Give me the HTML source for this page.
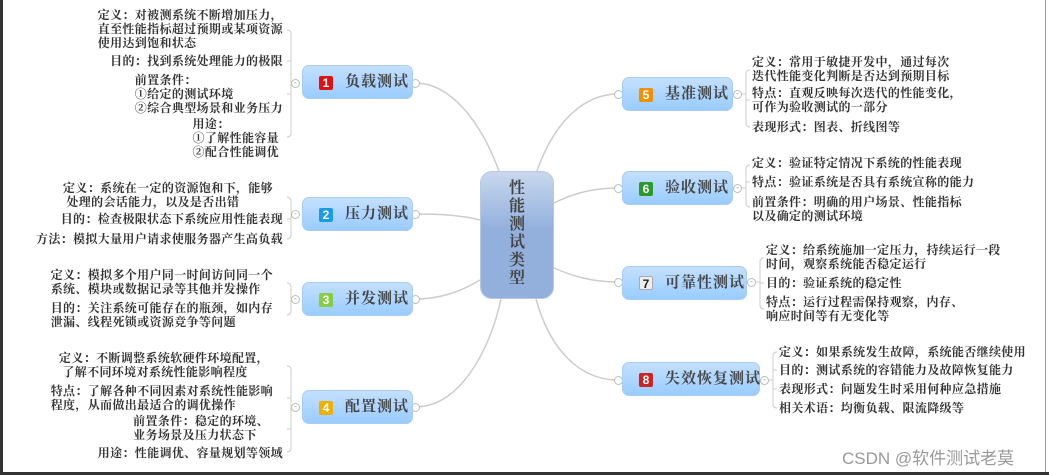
<!DOCTYPE html>
<html><head><meta charset="utf-8"><style>
body{margin:0;width:1049px;height:475px;background:#fff;position:relative;overflow:hidden;font-family:"Liberation Serif","Noto Serif CJK SC",serif;}
.t{position:absolute;font-size:12px;line-height:14px;color:#333;white-space:nowrap;font-weight:bold;letter-spacing:0.35px;}
.l{right:766px;}
.n{position:absolute;height:34px;border-radius:7px;background:linear-gradient(#c4e0ff,#99ccff);border:1px solid #a9cdf0;box-sizing:border-box;font-size:15px;color:#444;font-weight:bold;line-height:32px;padding-left:16px;white-space:nowrap;letter-spacing:1px;}
.ic{display:inline-block;width:14px;height:14px;line-height:14px;text-align:center;font-family:"Liberation Sans",sans-serif;font-size:12px;color:#fff;border-radius:2px;margin-right:12px;vertical-align:-1px;letter-spacing:0;}
.c{position:absolute;width:9px;height:9px;border:1px solid #bbb;border-radius:50%;background:#fff;box-sizing:border-box;}
.m{font-size:8px;line-height:6px;text-align:center;color:#888;}
</style></head><body>
<div style="position:absolute;left:0;top:0;width:3px;height:475px;background:#333"></div>
<div style="position:absolute;left:0;top:472px;width:1049px;height:3px;background:#333"></div>
<div style="position:absolute;left:1045px;top:0;width:1px;height:472px;background:#999"></div>
<svg width="1049" height="475" style="position:absolute;left:0;top:0">
<g fill="none" stroke="#ccc" stroke-width="1.5">
<path d="M499,171 C480,120 450,83 415,83"/>
<path d="M480,220 C460,215 440,214 415,214"/>
<path d="M480,280 C460,292 440,299 415,299"/>
<path d="M501,299 C490,350 460,407 415,407"/>
<path d="M537,171 C555,120 585,94 618,94"/>
<path d="M554,203 C570,195 590,188 618,188"/>
<path d="M554,268 C570,275 590,282 618,282"/>
<path d="M536,299 C550,350 580,380 618,380"/>
</g>
<g fill="none" stroke="#ccc" stroke-width="1">
<path d="M287,30 Q291,30 291,34 V133 Q291,137 287,137 M287,61 H291 M287,94 H291 M291,83 H296"/>
<path d="M287,197 Q291,197 291,201 V235 Q291,239 287,239 M287,219 H291 M291,214 H296"/>
<path d="M287,283 Q291,283 291,287 V311 Q291,315 287,315 M291,299 H296"/>
<path d="M287,366 Q291,366 291,370 V448 Q291,452 287,452 M287,398 H291 M287,429 H291 M291,407 H296"/>
<path d="M750,70 Q746,70 746,74 V123 Q746,127 750,127 M746,100 H750 M742,94 H746"/>
<path d="M750,165 Q746,165 746,169 V203 Q746,207 750,207 M746,182 H750 M742,188 H746"/>
<path d="M764,258 Q760,258 760,262 V305 Q760,309 764,309 M760,283 H764 M756,282 H760"/>
<path d="M777,352 Q773,352 773,356 V404 Q773,408 777,408 M773,370 H777 M773,389 H777 M769,380 H773"/>
</g>
</svg>
<div class="c m" style="left:291px;top:79px">-</div><div class="c m" style="left:291px;top:210px">-</div><div class="c m" style="left:291px;top:295px">-</div><div class="c m" style="left:291px;top:403px">-</div>
<div class="c" style="left:411px;top:79px"></div><div class="c" style="left:411px;top:210px"></div><div class="c" style="left:411px;top:295px"></div><div class="c" style="left:411px;top:403px"></div>
<div class="c" style="left:614px;top:90px"></div><div class="c" style="left:614px;top:184px"></div><div class="c" style="left:614px;top:278px"></div><div class="c" style="left:614px;top:376px"></div>
<div class="c m" style="left:733px;top:90px">-</div><div class="c m" style="left:733px;top:184px">-</div><div class="c m" style="left:747px;top:278px">-</div><div class="c m" style="left:760px;top:376px">-</div>

<div style="position:absolute;left:480px;top:171px;width:74px;height:128px;border-radius:12px;background:linear-gradient(#c8d8ee,#93b0dc 45%,#93b0dc);border:1px solid #b8c8e0;box-sizing:border-box;font-size:16px;font-weight:bold;color:#444;line-height:18px;text-align:center;padding-top:8px;">性<br>能<br>测<br>试<br>类<br>型</div>

<div class="n" style="left:302px;top:65px;width:111px"><span class="ic" style="background:#d11">1</span>负载测试</div>
<div class="n" style="left:302px;top:197px;width:111px"><span class="ic" style="background:#1a9be6">2</span>压力测试</div>
<div class="n" style="left:302px;top:282px;width:111px"><span class="ic" style="background:#8c4">3</span>并发测试</div>
<div class="n" style="left:302px;top:390px;width:111px"><span class="ic" style="background:#f0b000">4</span>配置测试</div>
<div class="n" style="left:622px;top:77px;width:111px"><span class="ic" style="background:#f39000">5</span>基准测试</div>
<div class="n" style="left:622px;top:171px;width:111px"><span class="ic" style="background:#2a9a2a">6</span>验收测试</div>
<div class="n" style="left:622px;top:266px;width:125px"><span class="ic" style="background:#eee;color:#222;border:1px solid #aaa;box-sizing:border-box">7</span>可靠性测试</div>
<div class="n" style="left:622px;top:362px;width:138px"><span class="ic" style="background:#c22">8</span>失效恢复测试</div>

<div class="t l" style="top:8px">定义：对被测系统不断增加压力，<br>直至性能指标超过预期或某项资源<br>使用达到饱和状态</div>
<div class="t l" style="top:54px">目的：找到系统处理能力的极限</div>
<div class="t l" style="top:73px">前置条件：<br>①给定的测试环境<br>②综合典型场景和业务压力</div>
<div class="t l" style="top:117px;right:770px">用途：<br>①了解性能容量<br>②配合性能调优</div>
<div class="t l" style="top:181px;right:776px">定义：系统在一定的资源饱和下，能够<br>&nbsp;处理的会话能力，以及是否出错</div>
<div class="t l" style="top:212px">目的：检查极限状态下系统应用性能表现</div>
<div class="t l" style="top:232px">方法：模拟大量用户请求使服务器产生高负载</div>
<div class="t l" style="top:268px;right:776px">定义：模拟多个用户同一时间访问同一个<br>系统、模块或数据记录等其他并发操作</div>
<div class="t l" style="top:301px;right:776px">目的：关注系统可能存在的瓶颈，如内存<br>泄漏、线程死锁或资源竞争等问题</div>
<div class="t l" style="top:351px;right:780px">定义：不断调整系统软硬件环境配置，<br>&nbsp;了解不同环境对系统性能影响程度</div>
<div class="t l" style="top:384px;right:776px">特点：了解各种不同因素对系统性能影响<br>程度，从而做出最适合的调优操作</div>
<div class="t l" style="top:414px;right:780px">前置条件：稳定的环境、<br>业务场景及压力状态下</div>
<div class="t l" style="top:446px">用途：性能调优、容量规划等领域</div>

<div class="t" style="left:752px;top:55px">定义：常用于敏捷开发中，通过每次<br>迭代性能变化判断是否达到预期目标</div>
<div class="t" style="left:752px;top:86px">特点：直观反映每次迭代的性能变化，<br>可作为验收测试的一部分</div>
<div class="t" style="left:752px;top:120px">表现形式：图表、折线图等</div>
<div class="t" style="left:752px;top:156px">定义：验证特定情况下系统的性能表现</div>
<div class="t" style="left:752px;top:175px">特点：验证系统是否具有系统宣称的能力</div>
<div class="t" style="left:752px;top:195px">前置条件：明确的用户场景、性能指标<br>以及确定的测试环境</div>
<div class="t" style="left:766px;top:243px">定义：给系统施加一定压力，持续运行一段<br>时间，观察系统能否稳定运行</div>
<div class="t" style="left:766px;top:276px">目的：验证系统的稳定性</div>
<div class="t" style="left:766px;top:295px">特点：运行过程需保持观察，内存、<br>响应时间等有无变化等</div>
<div class="t" style="left:779px;top:345px">定义：如果系统发生故障，系统能否继续使用</div>
<div class="t" style="left:779px;top:363px">目的：测试系统的容错能力及故障恢复能力</div>
<div class="t" style="left:779px;top:382px">表现形式：问题发生时采用何种应急措施</div>
<div class="t" style="left:779px;top:401px">相关术语：均衡负载、限流降级等</div>

<div style="position:absolute;left:842px;top:444px;font-family:'Liberation Sans','Noto Sans CJK SC',sans-serif;font-size:17px;color:#999;white-space:nowrap;">CSDN @软件测试老莫</div>
</body></html>
